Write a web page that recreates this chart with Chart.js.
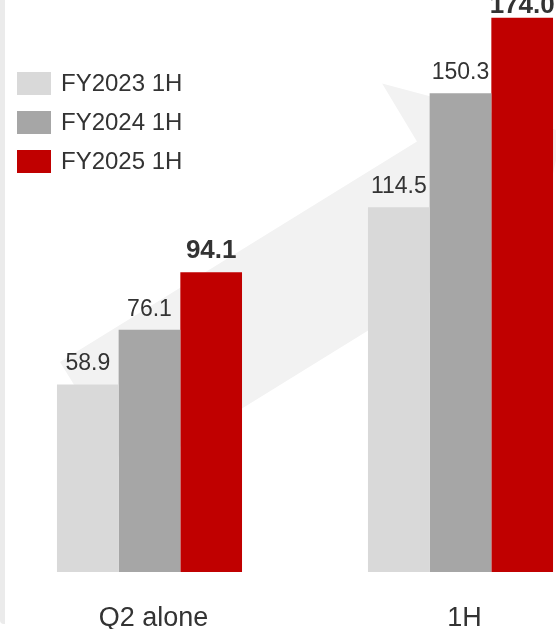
<!DOCTYPE html>
<html>
<head>
<meta charset="utf-8">
<script src="https://cdn.jsdelivr.net/npm/chart.js@4/dist/chart.umd.min.js"></script>
<style>
  html, body { margin: 0; padding: 0; background: #ffffff; overflow: hidden; }
  #page { position: relative; width: 556px; height: 629px; overflow: hidden; }
  #edge { position: absolute; left: 0; top: 0; width: 5px; height: 624px; background: #ebebeb; border-bottom-left-radius: 4px; }
  #wrap { position: absolute; left: -6px; top: 0; width: 622px; height: 670px; }
</style>
</head>
<body>
<div id="page">
  <div id="edge"></div>
  <div id="wrap"><canvas id="salesChart"></canvas></div>
</div>
<script>
// Data
const categories = ['Q2 alone', '1H'];
const seriesNames = ['FY2023 1H', 'FY2024 1H', 'FY2025 1H'];
const fy2023 = [58.9, 114.5];
const fy2024 = [76.1, 150.3];
const fy2025 = [94.1, 174.0];

const colors = ['#d9d9d9', '#a6a6a6', '#c00000'];
const FONT = '"Liberation Sans", Arial, sans-serif';

// Background growth arrow, in scale units (x: category index, y: value)
const arrowPath = [
    [-0.288, 65.9], [0.860, 135.2], [0.748, 153.4], [1.326, 138.3],
    [1.203, 81.1], [1.088, 99.1], [-0.059, 29.8]
];

const growthArrow = {
    id: 'growthArrow',
    beforeDatasetsDraw (chart) {
        const { ctx, scales: { x, y } } = chart;
        ctx.save();
        ctx.fillStyle = '#f2f2f2';
        ctx.beginPath();
        arrowPath.forEach(([vx, vy], i) => {
            const px = x.getPixelForValue(0) + vx * (x.getPixelForValue(1) - x.getPixelForValue(0));
            const py = y.getPixelForValue(vy);
            if (i === 0) ctx.moveTo(px, py); else ctx.lineTo(px, py);
        });
        ctx.closePath();
        ctx.fill();
        ctx.restore();
    }
};

// Value labels above each bar
const barValues = {
    id: 'barValues',
    afterDatasetsDraw (chart) {
        const { ctx } = chart;
        ctx.save();
        ctx.textAlign = 'center';
        ctx.textBaseline = 'alphabetic';
        ctx.fillStyle = '#333333';
        chart.data.datasets.forEach((ds, di) => {
            const last = di === chart.data.datasets.length - 1;
            ctx.font = last ? `bold 26px ${FONT}` : `23px ${FONT}`;
            chart.getDatasetMeta(di).data.forEach((bar, i) => {
                const yPos = Math.max(bar.y - 14, 13);
                ctx.fillText(ds.data[i].toFixed(1), bar.x, yPos);
            });
        });
        ctx.restore();
    }
};

// Legend drawn inside the plot, top left
const innerLegend = {
    id: 'innerLegend',
    afterDraw (chart) {
        const { ctx } = chart;
        ctx.save();
        ctx.font = `24px ${FONT}`;
        ctx.textAlign = 'left';
        ctx.textBaseline = 'middle';
        chart.data.datasets.forEach((ds, i) => {
            const top = 72 + i * 39;
            ctx.fillStyle = ds.backgroundColor;
            ctx.fillRect(23, top, 34, 23);
            ctx.fillStyle = '#333333';
            ctx.fillText(ds.label, 67, top + 12.5);
        });
        ctx.restore();
    }
};

const ctx = document.getElementById('salesChart').getContext('2d');
const salesChart = new Chart(ctx, {
    type: 'bar',
    data: {
        labels: categories,
        datasets: [
            { label: seriesNames[0], data: fy2023, backgroundColor: colors[0] },
            { label: seriesNames[1], data: fy2024, backgroundColor: colors[1] },
            { label: seriesNames[2], data: fy2025, backgroundColor: colors[2] }
        ]
    },
    options: {
        responsive: true,
        maintainAspectRatio: false,
        animation: false,
        layout: { padding: { top: 0, left: 0, right: 0, bottom: 5.6 } },
        datasets: {
            bar: { categoryPercentage: 0.595, barPercentage: 1.0, borderWidth: 0 }
        },
        plugins: {
            legend: { display: false },
            tooltip: { enabled: false }
        },
        scales: {
            x: {
                grid: { display: false, drawTicks: false },
                border: { display: false },
                ticks: {
                    color: '#333333',
                    font: { family: FONT, size: 27 },
                    padding: 30,
                    labelOffset: 4
                }
            },
            y: {
                display: false,
                min: 0,
                max: 179.6
            }
        }
    },
    plugins: [growthArrow, barValues, innerLegend]
});
</script>
</body>
</html>
